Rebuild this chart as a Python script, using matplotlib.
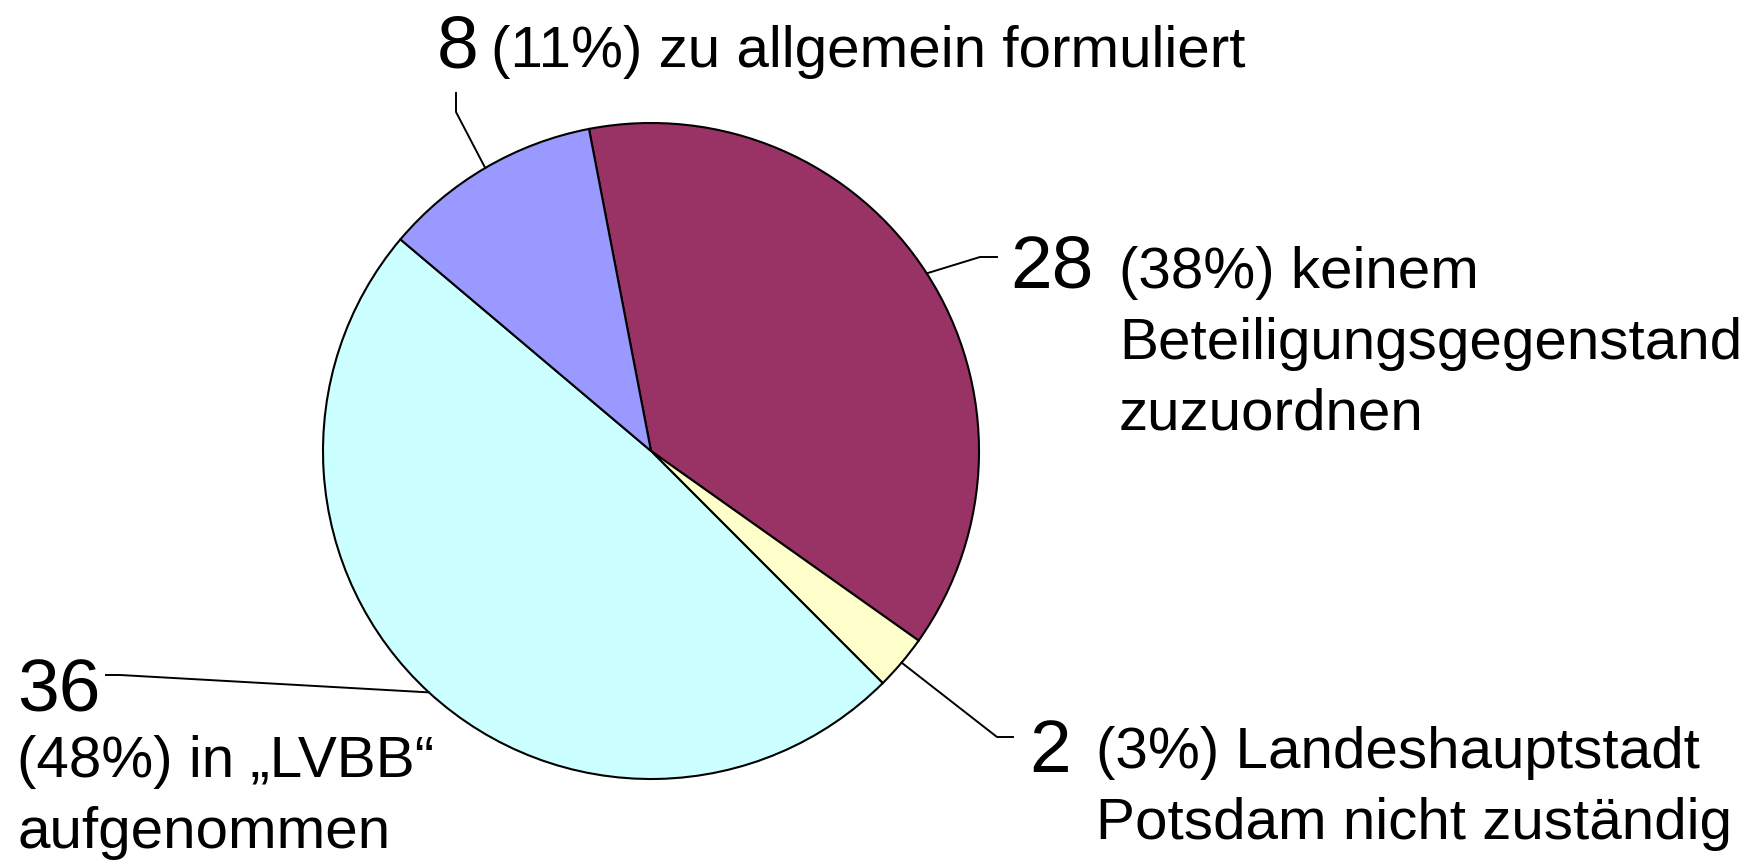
import numpy as np
import matplotlib
matplotlib.use("Agg")
import matplotlib.pyplot as plt

# Figure size in pixels; the axes use pixel coordinates (y up)
W, H = 1750, 861

# Slice data, clockwise from the top
counts = [28, 2, 36, 8]
percents = [38, 3, 48, 11]
descriptions = [
    "keinem\nBeteiligungsgegenstand\nzuzuordnen",
    "Landeshauptstadt\nPotsdam nicht zuständig",
    "in „LVBB“\naufgenommen",
    "zu allgemein formuliert",
]
slice_colors = ["#993366", "#FFFFCC", "#CCFFFF", "#9999FF"]

# Label layout (pixel coords from top-left): number baseline, baseline of the
# text's last line, leader elbow, leader end
LAYOUT = [
    dict(num=(1010, 287), txt=(1119, 430), elbow=(980, 257), end=(997, 257)),
    dict(num=(1029, 772), txt=(1096, 839), elbow=(997, 737), end=(1013, 737)),
    dict(num=(17, 711), txt=(17, 848), elbow=(120, 675), end=(106, 675)),
    dict(num=(437, 67), txt=(491, 67), elbow=(456, 112), end=(456, 93)),
]

CENTER = (651, 451)
RADIUS = 328
START_ANGLE = 100.9

BIG = 54
SMALL = 42
FONT = "Liberation Sans"


def px(x, y):
    """Convert a top-left pixel position to axes data coords (y up)."""
    return x, H - y


fig = plt.figure(figsize=(W / 100, H / 100), dpi=100)
ax = fig.add_axes([0, 0, 1, 1])

wedges, _ = ax.pie(counts, colors=slice_colors, startangle=START_ANGLE,
                   counterclock=False, center=px(*CENTER), radius=RADIUS,
                   wedgeprops=dict(edgecolor="black", linewidth=1.5))

# pie() resets the limits, so set the pixel frame afterwards
ax.set_xlim(0, W)
ax.set_ylim(0, H)
ax.set_aspect("equal")
ax.axis("off")

cx, cy = px(*CENTER)
for w, n, p, desc, lay in zip(wedges, counts, percents, descriptions, LAYOUT):
    mid = np.deg2rad((w.theta1 + w.theta2) / 2)
    sx = cx + RADIUS * np.cos(mid)
    sy = cy + RADIUS * np.sin(mid)
    ex, ey = px(*lay["elbow"])
    tx, ty = px(*lay["end"])
    ax.plot([sx, ex, tx], [sy, ey, ty], color="black", lw=1.4)

    ax.text(*px(*lay["num"]), str(n), fontsize=BIG, family=FONT,
            ha="left", va="baseline")
    # multi-line text: va="baseline" anchors the last line
    ax.text(*px(*lay["txt"]), f"({p}%) {desc}", fontsize=SMALL, family=FONT,
            ha="left", va="baseline", linespacing=1.4)

fig.savefig("out.png", dpi=100)
